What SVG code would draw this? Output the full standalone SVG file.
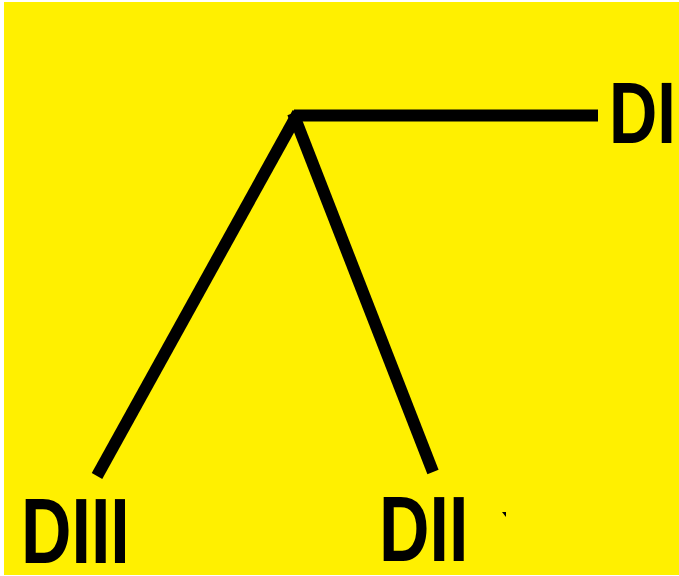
<svg xmlns="http://www.w3.org/2000/svg" width="679" height="576" viewBox="0 0 679 576">
<style>
.lbl{font-family:"Liberation Sans",Arial,sans-serif;font-weight:bold;fill:#000}
.ln{stroke:#000;stroke-width:12;fill:none;stroke-linecap:butt}
</style>
<rect x="0" y="0" width="679" height="576" fill="#fff"/>
<rect x="4" y="2" width="675" height="573" fill="#FFF000"/>
<g id="connectors">
<path class="ln" d="M294 115.5 H598" stroke-width="13"/>
<path class="ln" d="M298 113 L97 476"/>
<path class="ln" d="M293 113 L433 472"/>
<path d="M502 512 L506 512 L506 517 Z" fill="#000"/>
</g>
<g id="DI" transform="translate(609,143) scale(0.76,1)"><text class="lbl" x="0" y="0" font-size="88">DI</text></g>
<g id="DII" transform="translate(379,561) scale(0.76,1)"><text class="lbl" x="0" y="0" font-size="92">DII</text></g>
<g id="DIII" transform="translate(21,563) scale(0.76,1)"><text class="lbl" x="0" y="0" font-size="92">DIII</text></g>
</svg>
